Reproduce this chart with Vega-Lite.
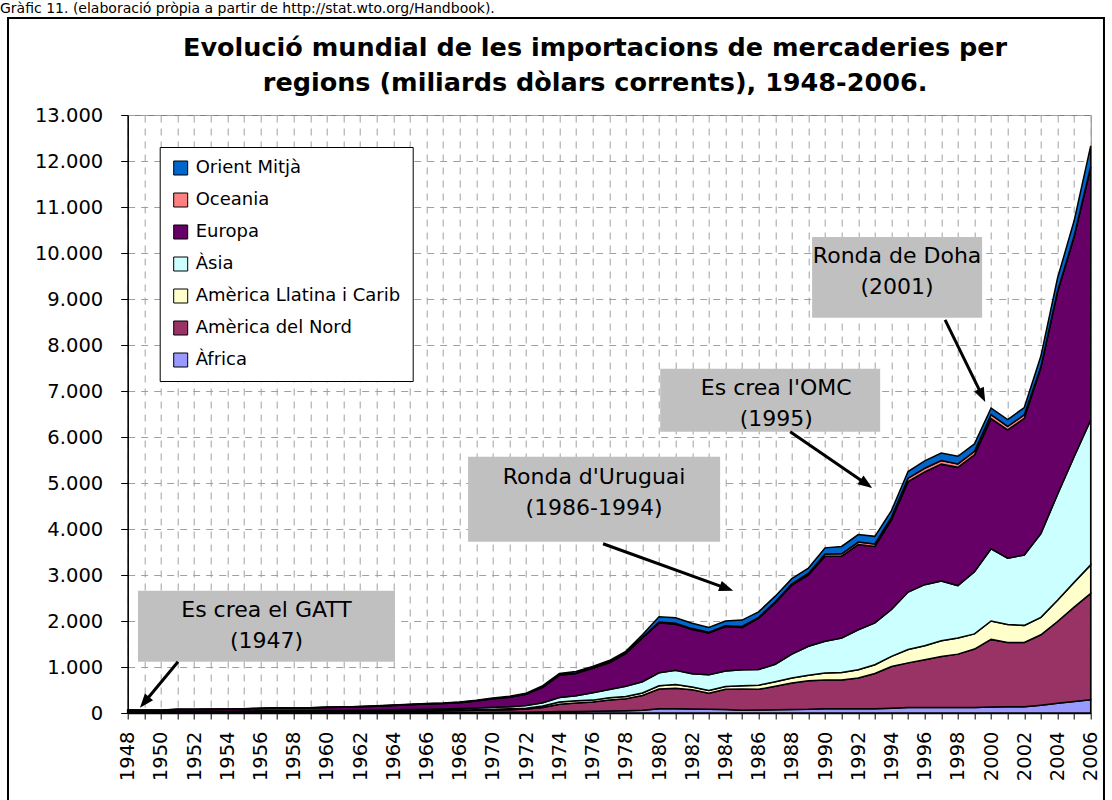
{
"$schema":"https://vega.github.io/schema/vega-lite/v6.json",
"width":963,"height":598,
"autosize":{"type":"none"},
"padding":{"left":127.7,"top":115,"right":21.3,"bottom":87},
"background":"white",
"config":{
 "font":"DejaVu Sans",
 "view":{"stroke":"#808080","strokeWidth":1},
 "axis":{"domainColor":"black","domainWidth":1.5,"tickColor":"black","tickWidth":1,"labelColor":"black","labelFont":"DejaVu Sans","labelFontSize":19.5,"title":null,"gridColor":"#a0a0a0","gridDash":[7,6],"gridWidth":1,"labelOverlap":false}
},
"datasets":{"imports":[
{"any":1948,"regio":"Àfrica","valor":5},{"any":1948,"regio":"Amèrica del Nord","valor":11},{"any":1948,"regio":"Amèrica Llatina i Carib","valor":7},{"any":1948,"regio":"Àsia","valor":7},{"any":1948,"regio":"Europa","valor":32},{"any":1948,"regio":"Oceania","valor":2.5},{"any":1948,"regio":"Orient Mitjà","valor":1.5},
{"any":1949,"regio":"Àfrica","valor":5},{"any":1949,"regio":"Amèrica del Nord","valor":10},{"any":1949,"regio":"Amèrica Llatina i Carib","valor":6},{"any":1949,"regio":"Àsia","valor":7},{"any":1949,"regio":"Europa","valor":31},{"any":1949,"regio":"Oceania","valor":2.5},{"any":1949,"regio":"Orient Mitjà","valor":1.5},
{"any":1950,"regio":"Àfrica","valor":5},{"any":1950,"regio":"Amèrica del Nord","valor":11},{"any":1950,"regio":"Amèrica Llatina i Carib","valor":6},{"any":1950,"regio":"Àsia","valor":7},{"any":1950,"regio":"Europa","valor":31},{"any":1950,"regio":"Oceania","valor":2.5},{"any":1950,"regio":"Orient Mitjà","valor":1.5},
{"any":1951,"regio":"Àfrica","valor":6.5},{"any":1951,"regio":"Amèrica del Nord","valor":14},{"any":1951,"regio":"Amèrica Llatina i Carib","valor":8},{"any":1951,"regio":"Àsia","valor":10},{"any":1951,"regio":"Europa","valor":38},{"any":1951,"regio":"Oceania","valor":3.5},{"any":1951,"regio":"Orient Mitjà","valor":2},
{"any":1952,"regio":"Àfrica","valor":6.5},{"any":1952,"regio":"Amèrica del Nord","valor":14},{"any":1952,"regio":"Amèrica Llatina i Carib","valor":8},{"any":1952,"regio":"Àsia","valor":9.5},{"any":1952,"regio":"Europa","valor":38},{"any":1952,"regio":"Oceania","valor":3},{"any":1952,"regio":"Orient Mitjà","valor":2},
{"any":1953,"regio":"Àfrica","valor":6},{"any":1953,"regio":"Amèrica del Nord","valor":17},{"any":1953,"regio":"Amèrica Llatina i Carib","valor":8},{"any":1953,"regio":"Àsia","valor":10},{"any":1953,"regio":"Europa","valor":39},{"any":1953,"regio":"Oceania","valor":3},{"any":1953,"regio":"Orient Mitjà","valor":2},
{"any":1954,"regio":"Àfrica","valor":6},{"any":1954,"regio":"Amèrica del Nord","valor":16},{"any":1954,"regio":"Amèrica Llatina i Carib","valor":8},{"any":1954,"regio":"Àsia","valor":10},{"any":1954,"regio":"Europa","valor":42},{"any":1954,"regio":"Oceania","valor":3},{"any":1954,"regio":"Orient Mitjà","valor":2},
{"any":1955,"regio":"Àfrica","valor":6.5},{"any":1955,"regio":"Amèrica del Nord","valor":17},{"any":1955,"regio":"Amèrica Llatina i Carib","valor":8},{"any":1955,"regio":"Àsia","valor":11},{"any":1955,"regio":"Europa","valor":47},{"any":1955,"regio":"Oceania","valor":3.5},{"any":1955,"regio":"Orient Mitjà","valor":2},
{"any":1956,"regio":"Àfrica","valor":7},{"any":1956,"regio":"Amèrica del Nord","valor":19},{"any":1956,"regio":"Amèrica Llatina i Carib","valor":8.5},{"any":1956,"regio":"Àsia","valor":12},{"any":1956,"regio":"Europa","valor":52},{"any":1956,"regio":"Oceania","valor":3.5},{"any":1956,"regio":"Orient Mitjà","valor":2},
{"any":1957,"regio":"Àfrica","valor":7.5},{"any":1957,"regio":"Amèrica del Nord","valor":20},{"any":1957,"regio":"Amèrica Llatina i Carib","valor":10},{"any":1957,"regio":"Àsia","valor":14},{"any":1957,"regio":"Europa","valor":56},{"any":1957,"regio":"Oceania","valor":4},{"any":1957,"regio":"Orient Mitjà","valor":2.5},
{"any":1958,"regio":"Àfrica","valor":7},{"any":1958,"regio":"Amèrica del Nord","valor":19},{"any":1958,"regio":"Amèrica Llatina i Carib","valor":9},{"any":1958,"regio":"Àsia","valor":12.5},{"any":1958,"regio":"Europa","valor":55},{"any":1958,"regio":"Oceania","valor":4},{"any":1958,"regio":"Orient Mitjà","valor":2.5},
{"any":1959,"regio":"Àfrica","valor":7},{"any":1959,"regio":"Amèrica del Nord","valor":21},{"any":1959,"regio":"Amèrica Llatina i Carib","valor":8.5},{"any":1959,"regio":"Àsia","valor":13},{"any":1959,"regio":"Europa","valor":59},{"any":1959,"regio":"Oceania","valor":4},{"any":1959,"regio":"Orient Mitjà","valor":2.5},
{"any":1960,"regio":"Àfrica","valor":8},{"any":1960,"regio":"Amèrica del Nord","valor":21},{"any":1960,"regio":"Amèrica Llatina i Carib","valor":9},{"any":1960,"regio":"Àsia","valor":16},{"any":1960,"regio":"Europa","valor":68},{"any":1960,"regio":"Oceania","valor":5},{"any":1960,"regio":"Orient Mitjà","valor":3},
{"any":1961,"regio":"Àfrica","valor":8},{"any":1961,"regio":"Amèrica del Nord","valor":21},{"any":1961,"regio":"Amèrica Llatina i Carib","valor":9},{"any":1961,"regio":"Àsia","valor":17},{"any":1961,"regio":"Europa","valor":72},{"any":1961,"regio":"Oceania","valor":5},{"any":1961,"regio":"Orient Mitjà","valor":3},
{"any":1962,"regio":"Àfrica","valor":8},{"any":1962,"regio":"Amèrica del Nord","valor":23},{"any":1962,"regio":"Amèrica Llatina i Carib","valor":9},{"any":1962,"regio":"Àsia","valor":18},{"any":1962,"regio":"Europa","valor":77},{"any":1962,"regio":"Oceania","valor":5},{"any":1962,"regio":"Orient Mitjà","valor":3},
{"any":1963,"regio":"Àfrica","valor":8.5},{"any":1963,"regio":"Amèrica del Nord","valor":24},{"any":1963,"regio":"Amèrica Llatina i Carib","valor":9.5},{"any":1963,"regio":"Àsia","valor":20},{"any":1963,"regio":"Europa","valor":85},{"any":1963,"regio":"Oceania","valor":5.5},{"any":1963,"regio":"Orient Mitjà","valor":3.5},
{"any":1964,"regio":"Àfrica","valor":9.5},{"any":1964,"regio":"Amèrica del Nord","valor":26},{"any":1964,"regio":"Amèrica Llatina i Carib","valor":10},{"any":1964,"regio":"Àsia","valor":23},{"any":1964,"regio":"Europa","valor":96},{"any":1964,"regio":"Oceania","valor":6.5},{"any":1964,"regio":"Orient Mitjà","valor":4},
{"any":1965,"regio":"Àfrica","valor":10},{"any":1965,"regio":"Amèrica del Nord","valor":29},{"any":1965,"regio":"Amèrica Llatina i Carib","valor":10.5},{"any":1965,"regio":"Àsia","valor":25},{"any":1965,"regio":"Europa","valor":104},{"any":1965,"regio":"Oceania","valor":7},{"any":1965,"regio":"Orient Mitjà","valor":4.5},
{"any":1966,"regio":"Àfrica","valor":10.5},{"any":1966,"regio":"Amèrica del Nord","valor":34},{"any":1966,"regio":"Amèrica Llatina i Carib","valor":11},{"any":1966,"regio":"Àsia","valor":27},{"any":1966,"regio":"Europa","valor":113},{"any":1966,"regio":"Oceania","valor":7.5},{"any":1966,"regio":"Orient Mitjà","valor":5},
{"any":1967,"regio":"Àfrica","valor":10.5},{"any":1967,"regio":"Amèrica del Nord","valor":36},{"any":1967,"regio":"Amèrica Llatina i Carib","valor":11.5},{"any":1967,"regio":"Àsia","valor":29},{"any":1967,"regio":"Europa","valor":118},{"any":1967,"regio":"Oceania","valor":7.5},{"any":1967,"regio":"Orient Mitjà","valor":5.5},
{"any":1968,"regio":"Àfrica","valor":11},{"any":1968,"regio":"Amèrica del Nord","valor":42},{"any":1968,"regio":"Amèrica Llatina i Carib","valor":12.5},{"any":1968,"regio":"Àsia","valor":32},{"any":1968,"regio":"Europa","valor":128},{"any":1968,"regio":"Oceania","valor":8},{"any":1968,"regio":"Orient Mitjà","valor":6.5},
{"any":1969,"regio":"Àfrica","valor":12},{"any":1969,"regio":"Amèrica del Nord","valor":47},{"any":1969,"regio":"Amèrica Llatina i Carib","valor":14},{"any":1969,"regio":"Àsia","valor":37},{"any":1969,"regio":"Europa","valor":150},{"any":1969,"regio":"Oceania","valor":9},{"any":1969,"regio":"Orient Mitjà","valor":7},
{"any":1970,"regio":"Àfrica","valor":14},{"any":1970,"regio":"Amèrica del Nord","valor":52},{"any":1970,"regio":"Amèrica Llatina i Carib","valor":16},{"any":1970,"regio":"Àsia","valor":44},{"any":1970,"regio":"Europa","valor":182},{"any":1970,"regio":"Oceania","valor":10},{"any":1970,"regio":"Orient Mitjà","valor":10},
{"any":1971,"regio":"Àfrica","valor":15},{"any":1971,"regio":"Amèrica del Nord","valor":58},{"any":1971,"regio":"Amèrica Llatina i Carib","valor":17},{"any":1971,"regio":"Àsia","valor":47},{"any":1971,"regio":"Europa","valor":203},{"any":1971,"regio":"Oceania","valor":10},{"any":1971,"regio":"Orient Mitjà","valor":12},
{"any":1972,"regio":"Àfrica","valor":16},{"any":1972,"regio":"Amèrica del Nord","valor":70},{"any":1972,"regio":"Amèrica Llatina i Carib","valor":19},{"any":1972,"regio":"Àsia","valor":58},{"any":1972,"regio":"Europa","valor":243},{"any":1972,"regio":"Oceania","valor":11},{"any":1972,"regio":"Orient Mitjà","valor":15},
{"any":1973,"regio":"Àfrica","valor":20},{"any":1973,"regio":"Amèrica del Nord","valor":100},{"any":1973,"regio":"Amèrica Llatina i Carib","valor":30},{"any":1973,"regio":"Àsia","valor":75},{"any":1973,"regio":"Europa","valor":335},{"any":1973,"regio":"Oceania","valor":12},{"any":1973,"regio":"Orient Mitjà","valor":22},
{"any":1974,"regio":"Àfrica","valor":30},{"any":1974,"regio":"Amèrica del Nord","valor":160},{"any":1974,"regio":"Amèrica Llatina i Carib","valor":50},{"any":1974,"regio":"Àsia","valor":95},{"any":1974,"regio":"Europa","valor":485},{"any":1974,"regio":"Oceania","valor":12},{"any":1974,"regio":"Orient Mitjà","valor":28},
{"any":1975,"regio":"Àfrica","valor":35},{"any":1975,"regio":"Amèrica del Nord","valor":180},{"any":1975,"regio":"Amèrica Llatina i Carib","valor":50},{"any":1975,"regio":"Àsia","valor":110},{"any":1975,"regio":"Europa","valor":485},{"any":1975,"regio":"Oceania","valor":12},{"any":1975,"regio":"Orient Mitjà","valor":33},
{"any":1976,"regio":"Àfrica","valor":40},{"any":1976,"regio":"Amèrica del Nord","valor":200},{"any":1976,"regio":"Amèrica Llatina i Carib","valor":40},{"any":1976,"regio":"Àsia","valor":160},{"any":1976,"regio":"Europa","valor":530},{"any":1976,"regio":"Oceania","valor":12},{"any":1976,"regio":"Orient Mitjà","valor":28},
{"any":1977,"regio":"Àfrica","valor":45},{"any":1977,"regio":"Amèrica del Nord","valor":240},{"any":1977,"regio":"Amèrica Llatina i Carib","valor":45},{"any":1977,"regio":"Àsia","valor":180},{"any":1977,"regio":"Europa","valor":580},{"any":1977,"regio":"Oceania","valor":14},{"any":1977,"regio":"Orient Mitjà","valor":36},
{"any":1978,"regio":"Àfrica","valor":50},{"any":1978,"regio":"Amèrica del Nord","valor":260},{"any":1978,"regio":"Amèrica Llatina i Carib","valor":50},{"any":1978,"regio":"Àsia","valor":220},{"any":1978,"regio":"Europa","valor":710},{"any":1978,"regio":"Oceania","valor":15},{"any":1978,"regio":"Orient Mitjà","valor":35},
{"any":1979,"regio":"Àfrica","valor":60},{"any":1979,"regio":"Amèrica del Nord","valor":320},{"any":1979,"regio":"Amèrica Llatina i Carib","valor":55},{"any":1979,"regio":"Àsia","valor":245},{"any":1979,"regio":"Europa","valor":950},{"any":1979,"regio":"Oceania","valor":18},{"any":1979,"regio":"Orient Mitjà","valor":52},
{"any":1980,"regio":"Àfrica","valor":90},{"any":1980,"regio":"Amèrica del Nord","valor":430},{"any":1980,"regio":"Amèrica Llatina i Carib","valor":70},{"any":1980,"regio":"Àsia","valor":285},{"any":1980,"regio":"Europa","valor":1085},{"any":1980,"regio":"Oceania","valor":20},{"any":1980,"regio":"Orient Mitjà","valor":110},
{"any":1981,"regio":"Àfrica","valor":90},{"any":1981,"regio":"Amèrica del Nord","valor":450},{"any":1981,"regio":"Amèrica Llatina i Carib","valor":80},{"any":1981,"regio":"Àsia","valor":310},{"any":1981,"regio":"Europa","valor":1000},{"any":1981,"regio":"Oceania","valor":20},{"any":1981,"regio":"Orient Mitjà","valor":120},
{"any":1982,"regio":"Àfrica","valor":85},{"any":1982,"regio":"Amèrica del Nord","valor":420},{"any":1982,"regio":"Amèrica Llatina i Carib","valor":60},{"any":1982,"regio":"Àsia","valor":290},{"any":1982,"regio":"Europa","valor":960},{"any":1982,"regio":"Oceania","valor":20},{"any":1982,"regio":"Orient Mitjà","valor":115},
{"any":1983,"regio":"Àfrica","valor":80},{"any":1983,"regio":"Amèrica del Nord","valor":350},{"any":1983,"regio":"Amèrica Llatina i Carib","valor":60},{"any":1983,"regio":"Àsia","valor":340},{"any":1983,"regio":"Europa","valor":910},{"any":1983,"regio":"Oceania","valor":18},{"any":1983,"regio":"Orient Mitjà","valor":102},
{"any":1984,"regio":"Àfrica","valor":75},{"any":1984,"regio":"Amèrica del Nord","valor":440},{"any":1984,"regio":"Amèrica Llatina i Carib","valor":60},{"any":1984,"regio":"Àsia","valor":340},{"any":1984,"regio":"Europa","valor":965},{"any":1984,"regio":"Oceania","valor":18},{"any":1984,"regio":"Orient Mitjà","valor":102},
{"any":1985,"regio":"Àfrica","valor":60},{"any":1985,"regio":"Amèrica del Nord","valor":460},{"any":1985,"regio":"Amèrica Llatina i Carib","valor":70},{"any":1985,"regio":"Àsia","valor":350},{"any":1985,"regio":"Europa","valor":920},{"any":1985,"regio":"Oceania","valor":20},{"any":1985,"regio":"Orient Mitjà","valor":140},
{"any":1986,"regio":"Àfrica","valor":65},{"any":1986,"regio":"Amèrica del Nord","valor":450},{"any":1986,"regio":"Amèrica Llatina i Carib","valor":90},{"any":1986,"regio":"Àsia","valor":340},{"any":1986,"regio":"Europa","valor":1115},{"any":1986,"regio":"Oceania","valor":20},{"any":1986,"regio":"Orient Mitjà","valor":120},
{"any":1987,"regio":"Àfrica","valor":70},{"any":1987,"regio":"Amèrica del Nord","valor":510},{"any":1987,"regio":"Amèrica Llatina i Carib","valor":100},{"any":1987,"regio":"Àsia","valor":380},{"any":1987,"regio":"Europa","valor":1335},{"any":1987,"regio":"Oceania","valor":25},{"any":1987,"regio":"Orient Mitjà","valor":120},
{"any":1988,"regio":"Àfrica","valor":75},{"any":1988,"regio":"Amèrica del Nord","valor":575},{"any":1988,"regio":"Amèrica Llatina i Carib","valor":110},{"any":1988,"regio":"Àsia","valor":520},{"any":1988,"regio":"Europa","valor":1500},{"any":1988,"regio":"Oceania","valor":30},{"any":1988,"regio":"Orient Mitjà","valor":110},
{"any":1989,"regio":"Àfrica","valor":80},{"any":1989,"regio":"Amèrica del Nord","valor":620},{"any":1989,"regio":"Amèrica Llatina i Carib","valor":120},{"any":1989,"regio":"Àsia","valor":630},{"any":1989,"regio":"Europa","valor":1550},{"any":1989,"regio":"Oceania","valor":40},{"any":1989,"regio":"Orient Mitjà","valor":110},
{"any":1990,"regio":"Àfrica","valor":95},{"any":1990,"regio":"Amèrica del Nord","valor":625},{"any":1990,"regio":"Amèrica Llatina i Carib","valor":150},{"any":1990,"regio":"Àsia","valor":690},{"any":1990,"regio":"Europa","valor":1850},{"any":1990,"regio":"Oceania","valor":45},{"any":1990,"regio":"Orient Mitjà","valor":135},
{"any":1991,"regio":"Àfrica","valor":95},{"any":1991,"regio":"Amèrica del Nord","valor":625},{"any":1991,"regio":"Amèrica Llatina i Carib","valor":160},{"any":1991,"regio":"Àsia","valor":750},{"any":1991,"regio":"Europa","valor":1780},{"any":1991,"regio":"Oceania","valor":50},{"any":1991,"regio":"Orient Mitjà","valor":160},
{"any":1992,"regio":"Àfrica","valor":95},{"any":1992,"regio":"Amèrica del Nord","valor":665},{"any":1992,"regio":"Amèrica Llatina i Carib","valor":180},{"any":1992,"regio":"Àsia","valor":870},{"any":1992,"regio":"Europa","valor":1850},{"any":1992,"regio":"Oceania","valor":55},{"any":1992,"regio":"Orient Mitjà","valor":165},
{"any":1993,"regio":"Àfrica","valor":95},{"any":1993,"regio":"Amèrica del Nord","valor":765},{"any":1993,"regio":"Amèrica Llatina i Carib","valor":190},{"any":1993,"regio":"Àsia","valor":910},{"any":1993,"regio":"Europa","valor":1660},{"any":1993,"regio":"Oceania","valor":55},{"any":1993,"regio":"Orient Mitjà","valor":165},
{"any":1994,"regio":"Àfrica","valor":105},{"any":1994,"regio":"Amèrica del Nord","valor":905},{"any":1994,"regio":"Amèrica Llatina i Carib","valor":220},{"any":1994,"regio":"Àsia","valor":1020},{"any":1994,"regio":"Europa","valor":1950},{"any":1994,"regio":"Oceania","valor":60},{"any":1994,"regio":"Orient Mitjà","valor":140},
{"any":1995,"regio":"Àfrica","valor":120},{"any":1995,"regio":"Amèrica del Nord","valor":970},{"any":1995,"regio":"Amèrica Llatina i Carib","valor":290},{"any":1995,"regio":"Àsia","valor":1250},{"any":1995,"regio":"Europa","valor":2400},{"any":1995,"regio":"Oceania","valor":75},{"any":1995,"regio":"Orient Mitjà","valor":145},
{"any":1996,"regio":"Àfrica","valor":120},{"any":1996,"regio":"Amèrica del Nord","valor":1040},{"any":1996,"regio":"Amèrica Llatina i Carib","valor":300},{"any":1996,"regio":"Àsia","valor":1330},{"any":1996,"regio":"Europa","valor":2450},{"any":1996,"regio":"Oceania","valor":80},{"any":1996,"regio":"Orient Mitjà","valor":160},
{"any":1997,"regio":"Àfrica","valor":120},{"any":1997,"regio":"Amèrica del Nord","valor":1110},{"any":1997,"regio":"Amèrica Llatina i Carib","valor":340},{"any":1997,"regio":"Àsia","valor":1300},{"any":1997,"regio":"Europa","valor":2540},{"any":1997,"regio":"Oceania","valor":80},{"any":1997,"regio":"Orient Mitjà","valor":160},
{"any":1998,"regio":"Àfrica","valor":120},{"any":1998,"regio":"Amèrica del Nord","valor":1160},{"any":1998,"regio":"Amèrica Llatina i Carib","valor":350},{"any":1998,"regio":"Àsia","valor":1140},{"any":1998,"regio":"Europa","valor":2570},{"any":1998,"regio":"Oceania","valor":75},{"any":1998,"regio":"Orient Mitjà","valor":165},
{"any":1999,"regio":"Àfrica","valor":120},{"any":1999,"regio":"Amèrica del Nord","valor":1270},{"any":1999,"regio":"Amèrica Llatina i Carib","valor":330},{"any":1999,"regio":"Àsia","valor":1350},{"any":1999,"regio":"Europa","valor":2540},{"any":1999,"regio":"Oceania","valor":80},{"any":1999,"regio":"Orient Mitjà","valor":160},
{"any":2000,"regio":"Àfrica","valor":130},{"any":2000,"regio":"Amèrica del Nord","valor":1470},{"any":2000,"regio":"Amèrica Llatina i Carib","valor":400},{"any":2000,"regio":"Àsia","valor":1570},{"any":2000,"regio":"Europa","valor":2830},{"any":2000,"regio":"Oceania","valor":85},{"any":2000,"regio":"Orient Mitjà","valor":145},
{"any":2001,"regio":"Àfrica","valor":135},{"any":2001,"regio":"Amèrica del Nord","valor":1400},{"any":2001,"regio":"Amèrica Llatina i Carib","valor":390},{"any":2001,"regio":"Àsia","valor":1440},{"any":2001,"regio":"Europa","valor":2790},{"any":2001,"regio":"Oceania","valor":75},{"any":2001,"regio":"Orient Mitjà","valor":150},
{"any":2002,"regio":"Àfrica","valor":135},{"any":2002,"regio":"Amèrica del Nord","valor":1400},{"any":2002,"regio":"Amèrica Llatina i Carib","valor":370},{"any":2002,"regio":"Àsia","valor":1530},{"any":2002,"regio":"Europa","valor":2970},{"any":2002,"regio":"Oceania","valor":80},{"any":2002,"regio":"Orient Mitjà","valor":155},
{"any":2003,"regio":"Àfrica","valor":170},{"any":2003,"regio":"Amèrica del Nord","valor":1530},{"any":2003,"regio":"Amèrica Llatina i Carib","valor":380},{"any":2003,"regio":"Àsia","valor":1820},{"any":2003,"regio":"Europa","valor":3610},{"any":2003,"regio":"Oceania","valor":20},{"any":2003,"regio":"Orient Mitjà","valor":230},
{"any":2004,"regio":"Àfrica","valor":210},{"any":2004,"regio":"Amèrica del Nord","valor":1780},{"any":2004,"regio":"Amèrica Llatina i Carib","valor":460},{"any":2004,"regio":"Àsia","valor":2300},{"any":2004,"regio":"Europa","valor":4400},{"any":2004,"regio":"Oceania","valor":20},{"any":2004,"regio":"Orient Mitjà","valor":280},
{"any":2005,"regio":"Àfrica","valor":250},{"any":2005,"regio":"Amèrica del Nord","valor":2050},{"any":2005,"regio":"Amèrica Llatina i Carib","valor":540},{"any":2005,"regio":"Àsia","valor":2730},{"any":2005,"regio":"Europa","valor":4780},{"any":2005,"regio":"Oceania","valor":20},{"any":2005,"regio":"Orient Mitjà","valor":330},
{"any":2006,"regio":"Àfrica","valor":290},{"any":2006,"regio":"Amèrica del Nord","valor":2310},{"any":2006,"regio":"Amèrica Llatina i Carib","valor":620},{"any":2006,"regio":"Àsia","valor":3150},{"any":2006,"regio":"Europa","valor":5490},{"any":2006,"regio":"Oceania","valor":20},{"any":2006,"regio":"Orient Mitjà","valor":450}
],
"series":[{"regio":"Àfrica","ordre":1},{"regio":"Amèrica del Nord","ordre":2},{"regio":"Amèrica Llatina i Carib","ordre":3},{"regio":"Àsia","ordre":4},{"regio":"Europa","ordre":5},{"regio":"Oceania","ordre":6},{"regio":"Orient Mitjà","ordre":7}],
"caixes":[{"x1":1948.62,"x2":1964.10,"y1":1115,"y2":2659},{"x1":1968.50,"x2":1983.68,"y1":3723,"y2":5570},{"x1":1980.07,"x2":1993.32,"y1":6113,"y2":7482},{"x1":1989.22,"x2":1999.46,"y1":8590,"y2":10350}],
"textos":[{"x":1956.36,"y":2239,"t":"Es crea el GATT\n(1947)"},{"x":1976.09,"y":5130,"t":"Ronda d'Uruguai\n(1986-1994)"},{"x":1987.06,"y":7065,"t":"Es crea l'OMC\n(1995)"},{"x":1994.34,"y":9935,"t":"Ronda de Doha\n(2001)"}],
"fletxes":[{"x1":1951.03,"y1":1115,"x2":1949.01,"y2":233},{"x1":1976.63,"y1":3679,"x2":1984.07,"y2":2710},{"x1":1987.90,"y1":6115,"x2":1992.49,"y2":4980},{"x1":1997.23,"y1":8547,"x2":1999.46,"y2":6901}],
"titol":[{"x":1976.15,"y":14457,"t":"Evolució mundial de les importacions de mercaderies per\nregions (miliards dòlars corrents), 1948-2006."}],
"peu":[{"x":1940.31,"y":15217,"t":"Gràfic 11. (elaboració pròpia a partir de http://stat.wto.org/Handbook)."}]
},
"layer":[
{"data":{"name":"imports"},
 "transform":[{"lookup":"regio","from":{"data":{"name":"series"},"key":"regio","fields":["ordre"]}}],
 "mark":{"type":"area","stroke":"black","strokeWidth":1.5,"interpolate":"linear","opacity":1},
 "encoding":{
  "x":{"field":"any","type":"quantitative","scale":{"domain":[1948,2006],"nice":false,"zero":false},
   "axis":{"values":[1948,1949,1950,1951,1952,1953,1954,1955,1956,1957,1958,1959,1960,1961,1962,1963,1964,1965,1966,1967,1968,1969,1970,1971,1972,1973,1974,1975,1976,1977,1978,1979,1980,1981,1982,1983,1984,1985,1986,1987,1988,1989,1990,1991,1992,1993,1994,1995,1996,1997,1998,1999,2000,2001,2002,2003,2004,2005,2006],
   "tickCount":100,
   "labelExpr":"datum.value % 2 == 0 ? '' + datum.value : ''","labelAngle":-90,"labelOverlap":false,"labelBound":false,"labelFlush":false,"tickSize":6,"labelPadding":12,"grid":true,"title":null}},
  "y":{"field":"valor","type":"quantitative","stack":"zero","scale":{"domain":[0,13000],"nice":false},
   "axis":{"values":[0,1000,2000,3000,4000,5000,6000,7000,8000,9000,10000,11000,12000,13000],"tickCount":40,"labelExpr":"replace(format(datum.value, ','), ',', '.')","labelOverlap":false,"tickSize":7,"labelPadding":18,"grid":true,"title":null}},
  "color":{"field":"regio","type":"nominal",
   "scale":{"domain":["Orient Mitjà","Oceania","Europa","Àsia","Amèrica Llatina i Carib","Amèrica del Nord","Àfrica"],"range":["#0066CC","#FF8080","#660066","#CCFFFF","#FFFFCC","#993366","#9999FF"]},
   "legend":{"orient":"top-left","offset":32,"title":null,"padding":12,"strokeColor":"black","fillColor":"white","labelFontSize":18,"labelFont":"DejaVu Sans","labelColor":"black","labelLimit":400,"symbolType":"square","symbolSize":196,"symbolStrokeColor":"black","symbolStrokeWidth":1,"symbolOpacity":1,"rowPadding":14,"labelOffset":6,"labelExpr":"datum.label + '\u00a0\u00a0\u00a0'"}},
  "order":{"field":"ordre","type":"quantitative","sort":"ascending"}
 }},
{"data":{"name":"caixes"},
 "mark":{"type":"rect","fill":"#C0C0C0"},
 "encoding":{
  "x":{"field":"x1","type":"quantitative","scale":{"domain":[1948,2006],"nice":false,"zero":false}},
  "x2":{"field":"x2"},
  "y":{"field":"y1","type":"quantitative","scale":{"domain":[0,13000],"nice":false}},
  "y2":{"field":"y2"}}},
{"data":{"name":"textos"},
 "mark":{"type":"text","lineBreak":"\n","fontSize":22,"font":"DejaVu Sans","align":"center","baseline":"middle","lineHeight":31,"color":"black"},
 "encoding":{
  "x":{"field":"x","type":"quantitative","scale":{"domain":[1948,2006],"nice":false,"zero":false}},
  "y":{"field":"y","type":"quantitative","scale":{"domain":[0,13000],"nice":false}},
  "text":{"field":"t"}}},
{"data":{"name":"fletxes"},
 "mark":{"type":"rule","stroke":"black","strokeWidth":3},
 "encoding":{
  "x":{"field":"x1","type":"quantitative","scale":{"domain":[1948,2006],"nice":false,"zero":false}},
  "y":{"field":"y1","type":"quantitative","scale":{"domain":[0,13000],"nice":false}},
  "x2":{"field":"x2"},
  "y2":{"field":"y2"}}},
{"data":{"values":[{"x":1949.01,"y":233}]},
 "mark":{"type":"point","shape":"M0,-1L0.75,1L-0.75,1Z","filled":true,"color":"black","opacity":1,"size":200,"angle":219.6},
 "encoding":{"x":{"field":"x","type":"quantitative","scale":{"domain":[1948,2006],"nice":false,"zero":false}},"y":{"field":"y","type":"quantitative","scale":{"domain":[0,13000],"nice":false}}}},
{"data":{"values":[{"x":1984.07,"y":2710}]},
 "mark":{"type":"point","shape":"M0,-1L0.75,1L-0.75,1Z","filled":true,"color":"black","opacity":1,"size":200,"angle":109.9},
 "encoding":{"x":{"field":"x","type":"quantitative","scale":{"domain":[1948,2006],"nice":false,"zero":false}},"y":{"field":"y","type":"quantitative","scale":{"domain":[0,13000],"nice":false}}}},
{"data":{"values":[{"x":1992.49,"y":4980}]},
 "mark":{"type":"point","shape":"M0,-1L0.75,1L-0.75,1Z","filled":true,"color":"black","opacity":1,"size":200,"angle":124.3},
 "encoding":{"x":{"field":"x","type":"quantitative","scale":{"domain":[1948,2006],"nice":false,"zero":false}},"y":{"field":"y","type":"quantitative","scale":{"domain":[0,13000],"nice":false}}}},
{"data":{"values":[{"x":1999.46,"y":6901}]},
 "mark":{"type":"point","shape":"M0,-1L0.75,1L-0.75,1Z","filled":true,"color":"black","opacity":1,"size":200,"angle":154.0},
 "encoding":{"x":{"field":"x","type":"quantitative","scale":{"domain":[1948,2006],"nice":false,"zero":false}},"y":{"field":"y","type":"quantitative","scale":{"domain":[0,13000],"nice":false}}}},
{"data":{"values":[{"x1":1940.79,"x2":2006.80,"y1":-2143,"y2":15109}]},
 "mark":{"type":"rect","fill":"transparent","stroke":"black","strokeWidth":2},
 "encoding":{
  "x":{"field":"x1","type":"quantitative","scale":{"domain":[1948,2006],"nice":false,"zero":false}},
  "x2":{"field":"x2"},
  "y":{"field":"y1","type":"quantitative","scale":{"domain":[0,13000],"nice":false}},
  "y2":{"field":"y2"}}},
{"data":{"name":"titol"},
 "mark":{"type":"text","lineBreak":"\n","fontSize":25.5,"fontWeight":"bold","font":"DejaVu Sans","align":"center","baseline":"middle","lineHeight":35,"color":"black"},
 "encoding":{
  "x":{"field":"x","type":"quantitative","scale":{"domain":[1948,2006],"nice":false,"zero":false}},
  "y":{"field":"y","type":"quantitative","scale":{"domain":[0,13000],"nice":false}},
  "text":{"field":"t"}}},
{"data":{"name":"peu"},
 "mark":{"type":"text","fontSize":14,"font":"DejaVu Sans","align":"left","baseline":"alphabetic","color":"black"},
 "encoding":{
  "x":{"field":"x","type":"quantitative","scale":{"domain":[1948,2006],"nice":false,"zero":false}},
  "y":{"field":"y","type":"quantitative","scale":{"domain":[0,13000],"nice":false}},
  "text":{"field":"t"}}}
]
}
